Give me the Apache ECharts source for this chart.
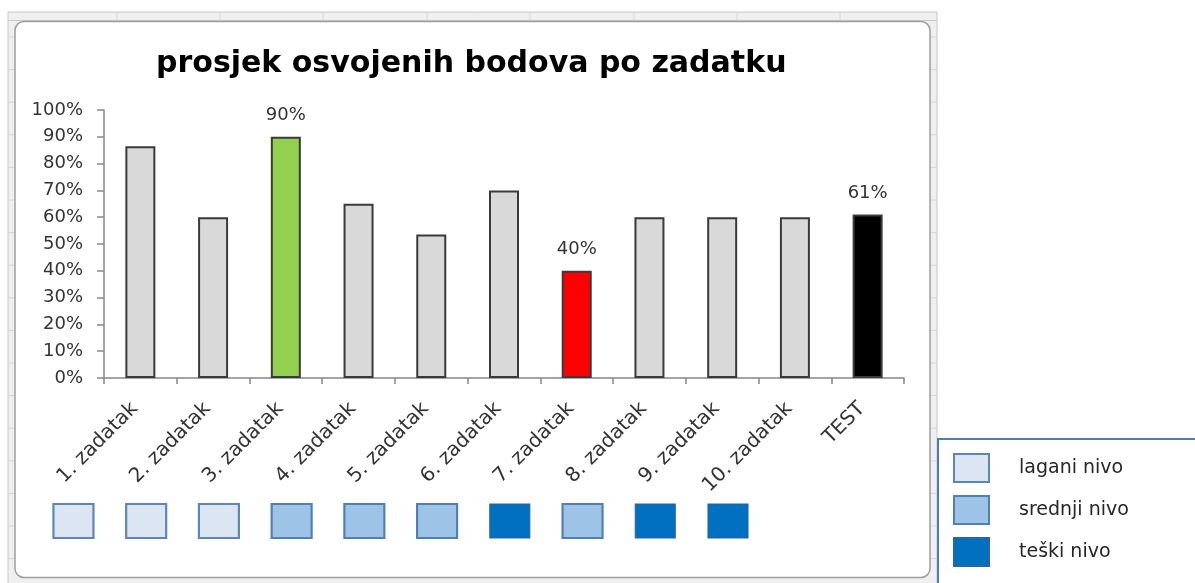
<!DOCTYPE html>
<html>
<head>
<meta charset="utf-8">
<script src="https://cdn.jsdelivr.net/npm/echarts@6/dist/echarts.min.js"></script>
<style>
  html, body { margin: 0; padding: 0; background: #ffffff; }
  #chart { width: 1195px; height: 583px; }
</style>
</head>
<body>
<div id="chart"></div>
<script>
// Average share of points won per task (percent)
const categories = ['1. zadatak', '2. zadatak', '3. zadatak', '4. zadatak', '5. zadatak',
  '6. zadatak', '7. zadatak', '8. zadatak', '9. zadatak', '10. zadatak', 'TEST'];
const scores = [86.5, 60, 90, 65, 53.5, 70, 40, 60, 60, 60, 61];

// Difficulty level of each task (tasks 1-10)
const levelNames = ['lagani nivo', 'srednji nivo', 'teški nivo'];
const taskLevels = ['lagani nivo', 'lagani nivo', 'lagani nivo', 'srednji nivo', 'srednji nivo',
  'srednji nivo', 'teški nivo', 'srednji nivo', 'teški nivo', 'teški nivo'];

const titleText = 'prosjek osvojenih bodova po zadatku';

const FONT = '"DejaVu Sans", sans-serif';
const TEXT = '#333333';

// Highlight best task (green), worst task (red) and the overall TEST bar (black)
const taskScores = scores.slice(0, scores.length - 1);
const best = taskScores.indexOf(Math.max(...taskScores));
const worst = taskScores.indexOf(Math.min(...taskScores));
const testIdx = scores.length - 1;

const barData = scores.map((v, i) => {
  let color = '#d9d9d9';
  let show = false;
  if (i === best) { color = '#92d050'; show = true; }
  if (i === worst) { color = '#ff0000'; show = true; }
  if (i === testIdx) { color = '#000000'; show = true; }
  return { value: v, itemStyle: { color }, label: { show } };
});

const levelStyle = {
  'lagani nivo': { color: '#dce6f2', borderColor: '#5a86b9', borderWidth: 2, opacity: 1 },
  'srednji nivo': { color: '#9dc3e6', borderColor: '#4f7fb5', borderWidth: 2, opacity: 1 },
  'teški nivo': { color: '#0070c0', borderColor: '#2766a6', borderWidth: 1, opacity: 1 }
};

// Each level marker sits one slot to the left of its task column
const levelSeries = levelNames.map(name => ({
  name,
  type: 'scatter',
  xAxisIndex: 1,
  yAxisIndex: 1,
  clip: false,
  symbol: 'rect',
  symbolSize: [40, 34],
  itemStyle: levelStyle[name],
  silent: true,
  data: taskLevels
    .map((lvl, i) => (lvl === name ? [i - 0.42, 0.5] : null))
    .filter(d => d !== null)
}));

// Spreadsheet frame around the chart
const chrome = [];
chrome.push({ type: 'rect', silent: true, z: -20,
  shape: { x: 8, y: 12, width: 929, height: 600 },
  style: { fill: '#efefef', stroke: '#c8c8c8', lineWidth: 1 } });
[117, 220, 323, 427, 530, 634, 737, 840].forEach(x => chrome.push({
  type: 'line', silent: true, z: -19,
  shape: { x1: x, y1: 12, x2: x, y2: 21 }, style: { stroke: '#d6d6d6', lineWidth: 1 } }));
for (let y = 37; y < 583; y += 32.6) {
  chrome.push({ type: 'line', silent: true, z: -19,
    shape: { x1: 8, y1: y, x2: 15, y2: y }, style: { stroke: '#d6d6d6', lineWidth: 1 } });
  chrome.push({ type: 'line', silent: true, z: -19,
    shape: { x1: 930, y1: y, x2: 937, y2: y }, style: { stroke: '#d6d6d6', lineWidth: 1 } });
}
chrome.push({ type: 'line', silent: true, z: -19,
  shape: { x1: 8, y1: 20.5, x2: 937, y2: 20.5 }, style: { stroke: '#c8c8c8', lineWidth: 1 } });
chrome.push({ type: 'rect', silent: true, z: -18,
  shape: { x: 15, y: 21.5, width: 915, height: 556, r: 9 },
  style: { fill: '#ffffff', stroke: '#9e9e9e', lineWidth: 1.5 } });
// Legend box
chrome.push({ type: 'rect', silent: true, z: -18,
  shape: { x: 938, y: 439, width: 300, height: 200 },
  style: { fill: '#ffffff', stroke: '#4a7ebb', lineWidth: 2 } });

const chart = echarts.init(document.getElementById('chart'), null, { renderer: 'canvas' });

chart.setOption({
  animation: false,
  backgroundColor: '#ffffff',
  title: {
    text: titleText,
    left: 151,
    top: 44,
    textStyle: { fontFamily: FONT, fontSize: 30, fontWeight: 'bold', color: '#000000' }
  },
  legend: {
    data: levelNames,
    orient: 'vertical',
    left: 953,
    top: 453,
    padding: 0,
    itemWidth: 35,
    itemHeight: 28,
    itemGap: 12,
    selectedMode: false,
    textStyle: { fontFamily: FONT, fontSize: 19, color: '#262626', padding: [0, 0, 0, 25] }
  },
  graphic: chrome,
  grid: [
    { left: 104, right: 291, top: 110, bottom: 205 },
    { left: 104, right: 291, top: 504, height: 34 }
  ],
  xAxis: [
    {
      type: 'category',
      gridIndex: 0,
      data: categories,
      axisLine: { lineStyle: { color: '#868686', width: 1.5 } },
      axisTick: { show: true, length: 6, lineStyle: { color: '#868686', width: 1.5 } },
      axisLabel: {
        interval: 0, rotate: 45, margin: 22, padding: [0, 8, 0, 0],
        fontFamily: FONT, fontSize: 20, color: TEXT
      }
    },
    { type: 'value', gridIndex: 1, min: 0, max: 11, show: false }
  ],
  yAxis: [
    {
      type: 'value',
      gridIndex: 0,
      min: 0,
      max: 100,
      interval: 10,
      splitLine: { show: false },
      axisLine: { show: true, lineStyle: { color: '#868686', width: 1.5 } },
      axisTick: { show: true, length: 7, lineStyle: { color: '#868686', width: 1.5 } },
      axisLabel: { formatter: '{value}%', margin: 21, fontFamily: FONT, fontSize: 18, color: TEXT }
    },
    { type: 'value', gridIndex: 1, min: 0, max: 1, show: false }
  ],
  series: [
    {
      type: 'bar',
      xAxisIndex: 0,
      yAxisIndex: 0,
      barWidth: 30,
      data: barData,
      itemStyle: { borderColor: '#3a3a3a', borderWidth: 2 },
      label: {
        position: 'top',
        distance: 12,
        formatter: p => Math.round(p.value) + '%',
        fontFamily: FONT,
        fontSize: 18,
        color: TEXT
      }
    },
    ...levelSeries
  ]
});
</script>
</body>
</html>
